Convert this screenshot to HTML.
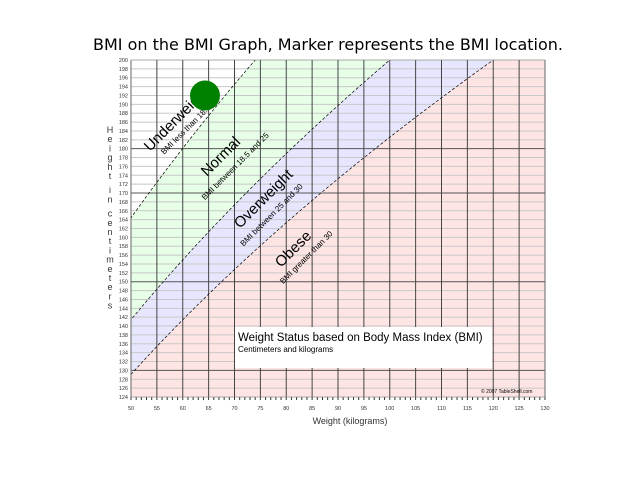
<!DOCTYPE html>
<html><head><meta charset="utf-8"><style>
html,body{margin:0;padding:0;background:#fff;}
svg{display:block;font-family:"Liberation Sans",sans-serif;}
</style></head><body>
<svg id="chart" width="640" height="480" viewBox="0 0 640 480">
<text x="328" y="50" font-size="16" font-family="DejaVu Sans, sans-serif" text-anchor="middle">BMI on the BMI Graph, Marker represents the BMI location.</text>
<g id="plot"></g>
</svg>
<script>
const xTicks = [50,55,60,65,70,75,80,85,90,95,100,105,110,115,120,125,130];
const yMin = 124, yMax = 200;
const darkRows = [180,170,150,130];
const bmiBounds = [18.5, 25, 30];
const zoneFills = ['#ffffff','#e6ffe6','#e6e6ff','#ffe4e4'];
const markerWeight = [64.3];
const markerHeight = [192];
const NS='http://www.w3.org/2000/svg';
const L=131,R=545,T=60,B=397;
const xs=w=>L+(w-50)*(R-L)/80;
const ys=h=>B-(h-yMin)*(B-T)/(yMax-yMin);
const g=document.getElementById('plot');
function mk(tag,attrs,parent){const e=document.createElementNS(NS,tag);for(const k in attrs)e.setAttribute(k,attrs[k]);(parent||g).appendChild(e);return e;}
function curve(b){const pts=[];for(let h=yMin;h<=yMax;h+=1){pts.push([xs(b*(h/100)**2),ys(h)]);}return pts;}
const cp=mk('clipPath',{id:'clip'});mk('rect',{x:L,y:T,width:R-L,height:B-T},cp);
const zg=mk('g',{'clip-path':'url(#clip)'});
mk('rect',{x:L,y:T,width:R-L,height:B-T,fill:zoneFills[0]},zg);
bmiBounds.forEach((b,i)=>{
  const p=curve(b);
  const d='M'+p.map(q=>q.join(',')).join('L')+`L${R+400},${T-10}L${R+400},${B+10}Z`;
  const z=mk('path',{d:d,fill:zoneFills[i+1]},zg);
  
  
});
for(let h=yMin;h<=yMax;h+=2){
  const dark=darkRows.includes(h);
  mk('line',{x1:L,x2:R,y1:ys(h),y2:ys(h),stroke:dark?'#555':'#c8c8c8','stroke-width':1});
  const t=mk('text',{x:L-3,y:ys(h)+2,'font-size':5.5,'text-anchor':'end',fill:'#333'});t.textContent=h;
  
  
}
xTicks.forEach(w=>{
  mk('line',{x1:xs(w),x2:xs(w),y1:T,y2:B,stroke:'#444','stroke-width':1});
  const t=mk('text',{x:xs(w),y:B+13,'font-size':5.5,'text-anchor':'middle',fill:'#333'});t.textContent=w;
  
  
});
for(let w=50;w<=130;w++){mk('line',{x1:xs(w),x2:xs(w),y1:B,y2:B+3,stroke:'#333'});}
bmiBounds.forEach(b=>{
  const p=curve(b);
  const c=mk('path',{d:'M'+p.map(q=>q.join(',')).join('L'),fill:'none',stroke:'#000','stroke-width':0.7,'stroke-dasharray':'3,2','clip-path':'url(#clip)'});
  
  
});
mk('rect',{x:L,y:T,width:R-L,height:B-T,fill:'none',stroke:'#888','stroke-width':0.5});
function lab(x,y,s1,s2,u,v){const gg=mk('g',{transform:`translate(${x},${y}) rotate(-45)`});
 const a=mk('text',{x:0,y:0,'font-size':15},gg);a.textContent=s1;
 const b=mk('text',{x:u,y:v,'font-size':8},gg);b.textContent=s2;
 }
lab(150,152,'Underweight','BMI less than 18.5',8,12);
lab(207,177,'Normal','BMI between 18.5 and 25',-18,15);
lab(240,229,'Overweight','BMI between 25 and 30',-10,15);
lab(281,268,'Obese','BMI greater than 30',-10,13);
mk('rect',{x:235,y:327,width:257,height:41,fill:'#fff'});
let t1=mk('text',{x:238,y:341,'font-size':11.5});t1.textContent='Weight Status based on Body Mass Index (BMI)';

let t2=mk('text',{x:238,y:352,'font-size':8});t2.textContent='Centimeters and kilograms';

let t3=mk('text',{x:481,y:393,'font-size':5});t3.textContent='© 2007 TableShell.com';

markerWeight.forEach((w,i)=>{const c=mk('circle',{cx:xs(w),cy:ys(markerHeight[i]),r:15,fill:'#008000'});
 });
let xl=mk('text',{x:350,y:424,'font-size':9,'text-anchor':'middle',fill:'#333'});xl.textContent='Weight (kilograms)';

const yt='Height in centimeters';
const yg=mk('text',{'font-size':9,'text-anchor':'middle',fill:'#333'});

let yy=133;[...yt].forEach(ch=>{const s=mk('tspan',{x:110,y:yy},yg);s.textContent=ch;yy+=ch===' '?5:9.2;});
</script>
</body></html>
